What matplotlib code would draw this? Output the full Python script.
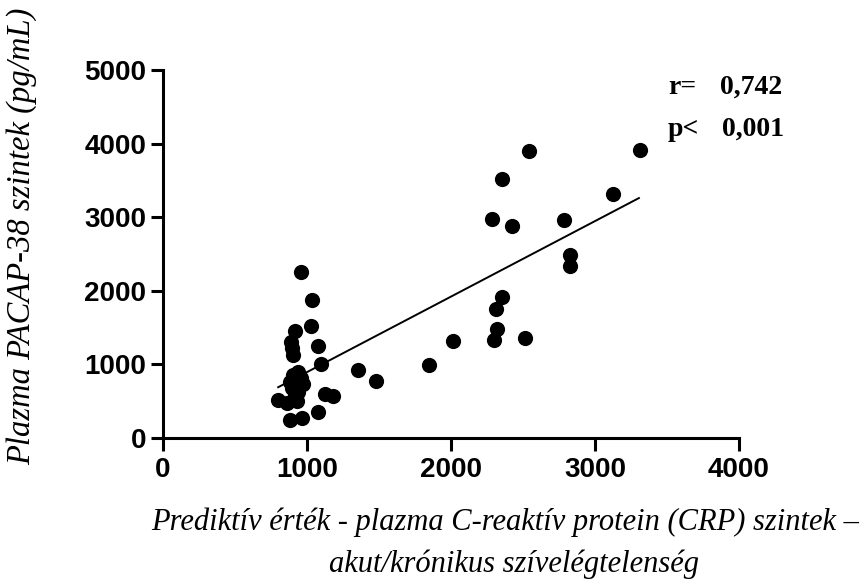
import numpy as np
import matplotlib
matplotlib.use("Agg")
import matplotlib.pyplot as plt

# CRP (x) and PACAP-38 (y) values
crp = [960, 1032, 1030, 917, 890, 895, 905, 1078, 1097, 1352, 1477,
       940, 905, 955, 882, 974, 893, 940, 920, 801, 861, 1125, 1178,
       1078, 882, 963, 930, 910,
       1849, 2016, 2296, 2322, 2312, 2356, 2514, 2285, 2421, 2354,
       2544, 2787, 2826, 2826, 3122, 3310]
pacap = [2260, 1870, 1520, 1460, 1300, 1220, 1130, 1250, 1000, 930, 770,
         900, 850, 820, 760, 740, 680, 630, 580, 520, 470, 600, 570,
         350, 240, 270, 500, 700,
         990, 1320, 1330, 1480, 1750, 1920, 1360, 2975, 2880, 3515,
         3905, 2960, 2486, 2340, 3310, 3915]

# regression line end points
fit_x = [800, 3305]
fit_y = [690, 3260]

x_ticks = [0, 1000, 2000, 3000, 4000]
y_ticks = [0, 1000, 2000, 3000, 4000, 5000]

W, H = 866, 579
fig = plt.figure(figsize=(W / 100, H / 100), dpi=100)
ax = fig.add_axes([163 / W, (H - 438) / H, (739 - 163) / W, (438 - 70) / H])

ax.scatter(crp, pacap, s=120, color="black", zorder=3, linewidths=0,
           clip_on=False)
ax.plot(fit_x, fit_y, color="black", lw=1.4, zorder=2)

ax.set_xlim(0, 4000)
ax.set_ylim(0, 5000)
ax.set_xticks(x_ticks)
ax.set_yticks(y_ticks)
for sp in ["top", "right"]:
    ax.spines[sp].set_visible(False)
for sp in ["left", "bottom"]:
    ax.spines[sp].set_linewidth(2.2)
ax.tick_params(length=9, width=2.2, direction="out")
ax.tick_params(axis="x", pad=5)
ax.tick_params(axis="y", pad=3)
for lab in ax.get_xticklabels() + ax.get_yticklabels():
    lab.set_fontfamily("Liberation Sans")
    lab.set_fontweight("bold")
    lab.set_fontsize(20)

fig.text(22 / W, 1 - 236 / H, "Plazma PACAP-38 szintek (pg/mL)", rotation=90,
         ha="center", va="center", family="Liberation Serif", style="italic",
         fontsize=23.5)
fig.text(505 / W, 1 - 522 / H,
         "Prediktív érték - plazma C-reaktív protein (CRP) szintek –",
         ha="center", va="center", family="Liberation Serif", style="italic",
         fontsize=22)
fig.text(514 / W, 1 - 564 / H, "akut/krónikus szívelégtelenség",
         ha="center", va="center", family="Liberation Serif", style="italic",
         fontsize=22)

fig.text(668 / W, 1 - 87 / H, "r=", ha="left", va="center",
         family="Liberation Serif", fontweight="bold", fontsize=20)
fig.text(720 / W, 1 - 87 / H, "0,742", ha="left", va="center",
         family="Liberation Serif", fontweight="bold", fontsize=20)
fig.text(668 / W, 1 - 129 / H, "p<", ha="left", va="center",
         family="Liberation Serif", fontweight="bold", fontsize=20)
fig.text(722 / W, 1 - 129 / H, "0,001", ha="left", va="center",
         family="Liberation Serif", fontweight="bold", fontsize=20)

fig.savefig("out.png", dpi=100)
